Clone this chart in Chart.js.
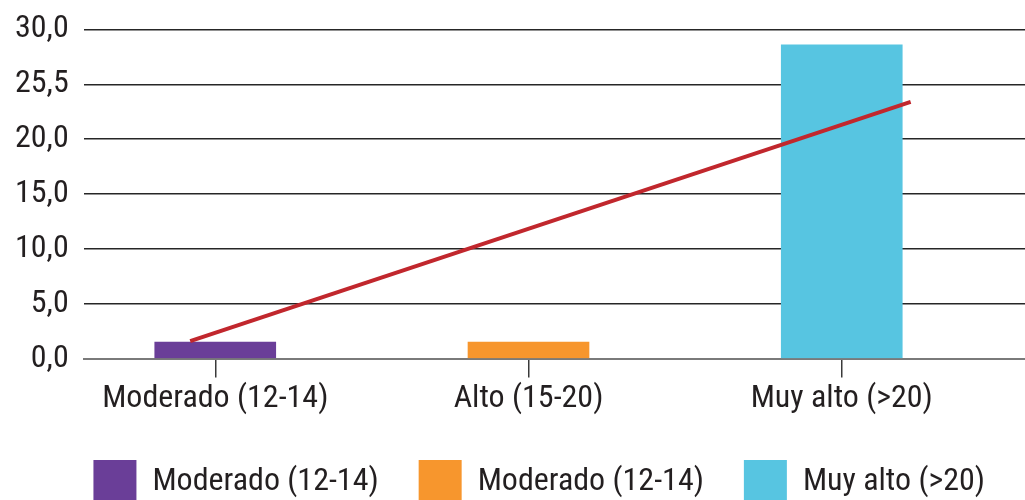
<!DOCTYPE html>
<html>
<head>
<meta charset="utf-8">
<script src="https://cdn.jsdelivr.net/npm/chart.js@4/dist/chart.umd.min.js"></script>
<style>
  html, body { margin: 0; padding: 0; background: #fff; overflow: hidden; }
  #wrap { width: 1025px; height: 513px; position: relative; }
</style>
</head>
<body>
<div id="wrap"><canvas id="chart"></canvas></div>
<script>
// Categories on the horizontal axis
const categories = ['Moderado (12-14)', 'Alto (15-20)', 'Muy alto (>20)'];
// Legend entries, one per bar series
const legendLabels = ['Moderado (12-14)', 'Moderado (12-14)', 'Muy alto (>20)'];
// Bar heights per category
const barValues = [1.5, 1.5, 28.6];
// Straight trend line: start and end positions (category index) and values
const trendX = [-0.08, 2.22];
const trendY = [1.6, 23.4];
// Vertical axis tick labels, bottom to top
const yTickLabels = ['0,0', '5,0', '10,0', '15,0', '20,0', '25,5', '30,0'];

const barColors = ['#6a3e98', '#f7962d', '#57c5e1'];
const textColor = '#231f20';
const FONT = "'Roboto Condensed', Roboto, 'Liberation Sans', sans-serif";
const FS = 32;

const datasets = categories.map((c, i) => ({
  type: 'bar',
  label: legendLabels[i],
  data: [{ x: i, y: barValues[i] }],
  backgroundColor: barColors[i],
  borderWidth: 0,
  barThickness: 121,
  grouped: false,
  order: 2
}));

datasets.push({
  type: 'line',
  label: 'trend',
  data: trendX.map((x, i) => ({ x, y: trendY[i] })),
  borderColor: '#c1272d',
  borderWidth: 4,
  pointRadius: 0,
  fill: false,
  order: 0
});

new Chart(document.getElementById('chart'), {
  type: 'bar',
  data: { datasets },
  options: {
    responsive: true,
    maintainAspectRatio: false,
    animation: false,
    layout: { padding: { top: 29, left: 0, right: 0, bottom: 0 } },
    plugins: {
      tooltip: { enabled: false },
      legend: {
        position: 'bottom',
        align: 'end',
        labels: {
          filter: item => item.datasetIndex < categories.length,
          boxWidth: 43,
          boxHeight: 43,
          padding: 40,
          color: textColor,
          font: { family: FONT, size: FS }
        }
      }
    },
    scales: {
      x: {
        type: 'linear',
        offset: false,
        min: -0.42,
        max: 2.585,
        afterBuildTicks: scale => { scale.ticks = categories.map((c, i) => ({ value: i })); },
        grid: {
          offset: false,
          drawOnChartArea: false,
          drawTicks: true,
          tickLength: 19,
          color: '#3a3a3a',
          lineWidth: 1.5
        },
        border: { display: true, color: '#7a7a7a', width: 2 },
        ticks: {
          autoSkip: false,
          maxRotation: 0,
          padding: 2,
          color: textColor,
          font: { family: FONT, size: FS },
          callback: v => categories[v]
        }
      },
      y: {
        min: 0,
        max: 30,
        ticks: {
          stepSize: 5,
          autoSkip: false,
          padding: 15,
          color: textColor,
          font: { family: FONT, size: FS, lineHeight: 0.9 },
          callback: (v, i) => yTickLabels[i]
        },
        grid: {
          drawTicks: false,
          color: ctx => (ctx.tick && ctx.tick.value === 0) ? '#7a7a7a' : '#262626',
          lineWidth: 1.5
        },
        border: { display: false }
      }
    }
  }
});
</script>
</body>
</html>
